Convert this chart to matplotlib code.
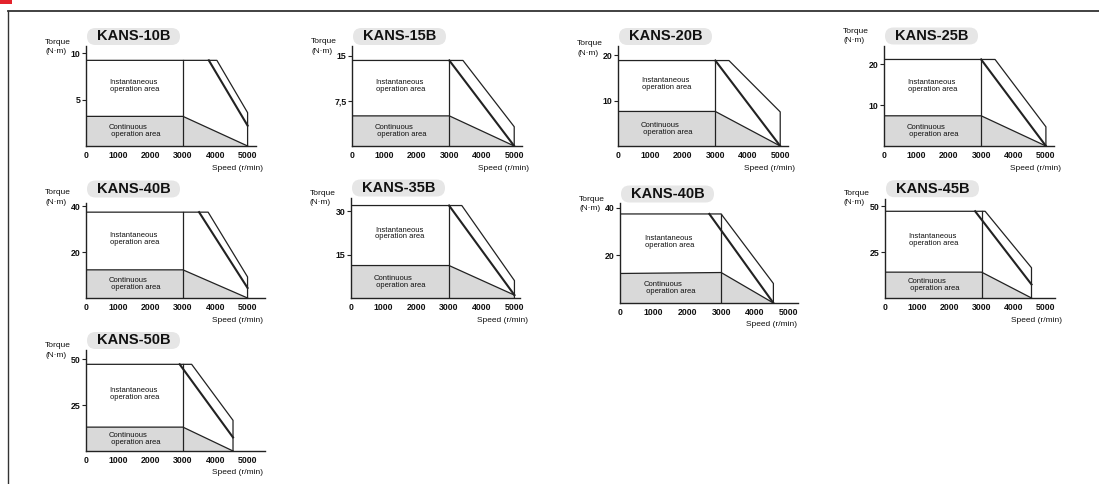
import matplotlib
matplotlib.use("Agg")
import matplotlib.pyplot as plt
from matplotlib.patches import FancyBboxPatch, Rectangle
from matplotlib.lines import Line2D

plt.rcParams['font.family'] = ['Liberation Sans', 'DejaVu Sans']

# torque-speed data for each motor (speed in r/min, torque in N·m)
models = ['KANS-10B', 'KANS-15B', 'KANS-20B', 'KANS-25B',
          'KANS-40B', 'KANS-35B', 'KANS-40B', 'KANS-45B', 'KANS-50B']
peak_torque = [9.25, 14.2, 18.8, 21.2, 37.5, 31.9, 37.4, 47.3, 47.2]
cont_torque = [3.2, 5.0, 7.6, 7.4, 12.3, 11.2, 12.4, 14.1, 13.0]
cont_torque_3000 = [3.2, 5.0, 7.6, 7.4, 12.3, 11.2, 12.8, 14.1, 13.0]
cont_end_torque = [0, 0, 0, 0, 0, 1.0, 0, 0, 0]
rated_speed = [3000] * 9
max_speed = [5000, 5000, 5000, 5000, 5000, 5000, 4550, 4550, 4550]
outer_knee_speed = [4050, 3420, 3420, 3430, 3780, 3390, 3000, 3110, 3270]
outer_end_torque = [3.6, 3.2, 7.5, 4.7, 9.2, 6.0, 8.2, 16.5, 16.7]
inner_start_speed = [3800, 3000, 3000, 3000, 3500, 3000, 2650, 2800, 2900]
inner_end_torque = [2.2, 0, 0, 0, 4.4, 1.0, 0, 7.4, 7.4]
y_ticks = [[5, 10], [7.5, 15], [10, 20], [10, 20], [20, 40],
           [15, 30], [20, 40], [25, 50], [25, 50]]
y_ticklabels = [['5', '10'], ['7,5', '15'], ['10', '20'], ['10', '20'], ['20', '40'],
                ['15', '30'], ['20', '40'], ['25', '50'], ['25', '50']]
x_ticks = [0, 1000, 2000, 3000, 4000, 5000]

# layout in pixels: left, x-axis y, width, height, xmax, ymax, title y, torque label y
layout = [
    (86, 146, 170, 100, 5260, 10.8, 36.5, 47),
    (352, 146, 170, 100, 5240, 16.6, 36.5, 46.5),
    (618, 146, 170, 100, 5240, 22.0, 36.5, 48.5),
    (884, 146, 170, 100, 5250, 24.5, 36, 36),
    (86, 298, 179, 95, 5540, 41.5, 189, 197.5),
    (351, 298, 169, 100, 5170, 34.5, 188, 198),
    (620, 303, 178, 100, 5280, 42.0, 194, 204),
    (885, 298, 170, 99, 5280, 54.0, 188.7, 198),
    (86, 451, 179, 101, 5540, 55.0, 340.5, 350.5),
]

W, H = 1099, 484
fig = plt.figure(figsize=(W / 100, H / 100), dpi=100)
dark = '#222222'
txt = '#111111'


def fx(x):
    return x / W


def fy(y):
    return 1 - y / H


# page frame and red marker
fig.add_artist(Rectangle((0, fy(3.5)), fx(12), 3.5 / H, transform=fig.transFigure,
                         color='#e3222c', lw=0))
fig.add_artist(Line2D([fx(8), 1], [fy(11), fy(11)], transform=fig.transFigure,
                      color='#333333', lw=1.3))
fig.add_artist(Line2D([fx(8), fx(8)], [fy(11), 0], transform=fig.transFigure,
                      color='#333333', lw=1.0))

for i, name in enumerate(models):
    left, base, wid, hei, xmax, ymax, ty, ly = layout[i]
    ax = fig.add_axes([fx(left), fy(base), wid / W, hei / H])
    ax.set_xlim(0, xmax)
    ax.set_ylim(0, ymax)
    ax.patch.set_alpha(0)
    for s in ['top', 'right']:
        ax.spines[s].set_visible(False)
    for s in ['left', 'bottom']:
        ax.spines[s].set_color(dark)
        ax.spines[s].set_linewidth(1.0)

    rs, ms = rated_speed[i], max_speed[i]
    pk, ct = peak_torque[i], cont_torque[i]

    # continuous operation area
    ax.fill([0, 0, rs, ms, ms], [0, ct, cont_torque_3000[i], cont_end_torque[i], 0],
            color='#d9d9d9', lw=0)
    ax.plot([0, rs, ms], [ct, cont_torque_3000[i], cont_end_torque[i]], color=dark, lw=0.9)
    # instantaneous area boundary
    ax.plot([0, outer_knee_speed[i], ms, ms], [pk, pk, outer_end_torque[i], 0],
            color=dark, lw=0.9)
    ax.plot([rs, rs], [0, pk], color=dark, lw=0.9)
    ax.plot([inner_start_speed[i], ms], [pk, inner_end_torque[i]], color=dark, lw=1.5)

    ax.text(730, (pk + ct) / 2 + 0.02 * ymax, 'Instantaneous\noperation area',
            fontsize=5.5, ha='left', va='center', linespacing=0.95, color=txt)
    ax.text(700, ct / 2, 'Continuous\n operation area',
            fontsize=5.5, ha='left', va='center', linespacing=0.95, color=txt)

    ax.set_xticks(x_ticks)
    ax.set_xticklabels([str(v) for v in x_ticks], fontweight='bold')
    ax.set_yticks(y_ticks[i])
    ax.set_yticklabels(y_ticklabels[i], fontweight='bold')
    ax.tick_params(axis='x', length=0, pad=3.5, labelsize=6.3, labelcolor=txt)
    ax.tick_params(axis='y', direction='out', length=3, width=0.8, pad=1,
                   labelsize=6.3, labelcolor=txt, color=dark)

    # title pill
    fig.add_artist(FancyBboxPatch(((left + 1) / 100, (H - ty - 8.5) / 100), 0.93, 0.17,
                                  boxstyle='round,pad=0,rounding_size=0.085',
                                  transform=fig.dpi_scale_trans,
                                  facecolor='#e6e6e6', edgecolor='none'))
    fig.text(fx(left + 47.5), fy(ty), name, fontsize=10.5, fontweight='bold',
             ha='center', va='center', color=txt)
    fig.text(fx(left - 41), fy(ly), 'Torque\n(N·m)', fontsize=6, ha='left', va='center',
             linespacing=1.45, color=txt)
    fig.text(fx(left + 177), fy(base + 22), 'Speed (r/min)', fontsize=6, ha='right',
             va='center', color=txt)

fig.savefig('out.png', dpi=100)
